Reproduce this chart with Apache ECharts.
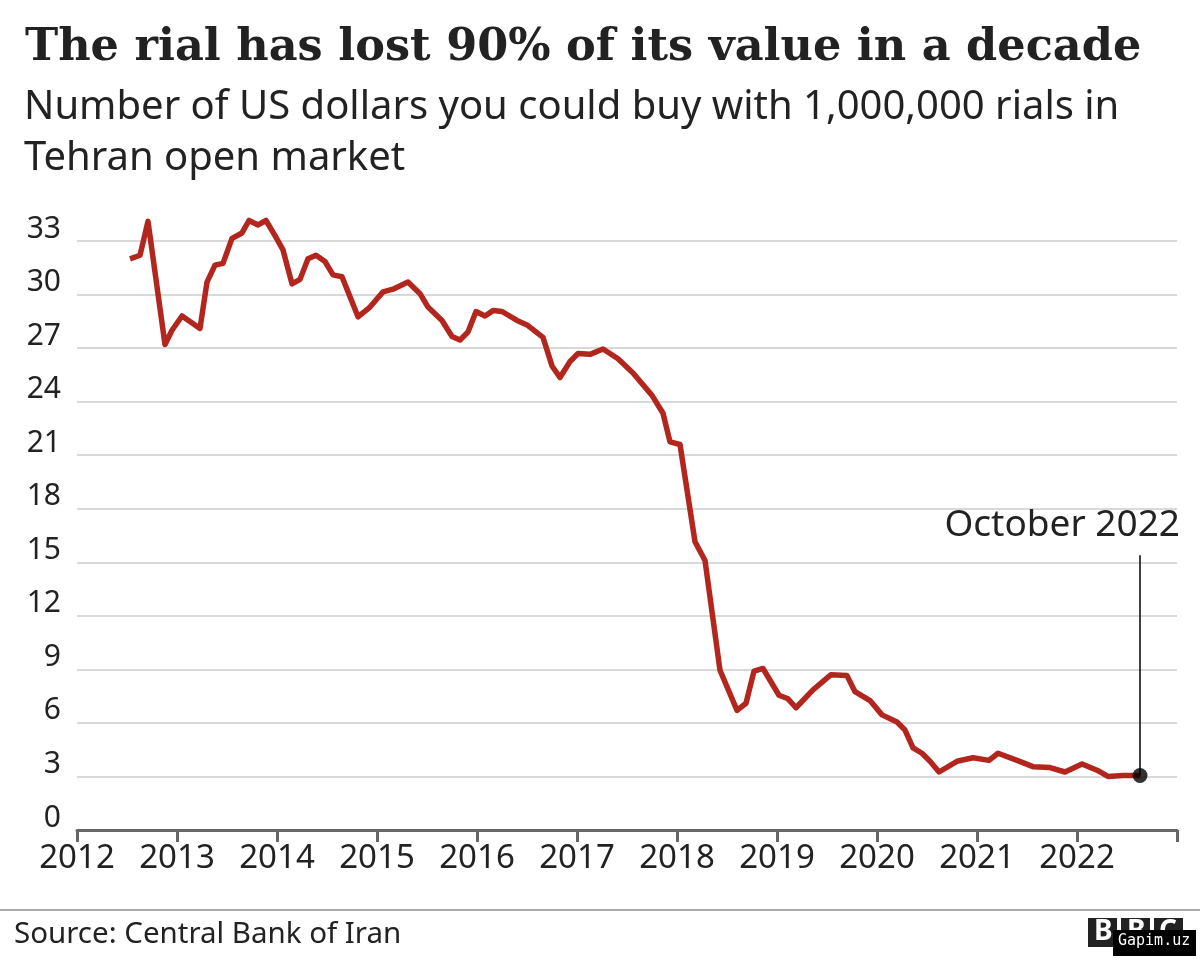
<!DOCTYPE html>
<html>
<head>
<meta charset="utf-8">
<script src="https://cdn.jsdelivr.net/npm/echarts@6/dist/echarts.min.js"></script>
<style>
  html, body { margin: 0; padding: 0; background: #fff; }
  #chart { width: 1200px; height: 960px; }
</style>
</head>
<body>
<div id="chart"></div>
<script>
// dollars per 1,000,000 rials (x = decimal year)
const years = [
  2012.53, 2012.63, 2012.71, 2012.88, 2012.95, 2013.05, 2013.23, 2013.30, 2013.38, 2013.46,
  2013.55, 2013.65, 2013.72, 2013.81, 2013.89, 2013.98, 2014.06, 2014.15, 2014.23, 2014.31,
  2014.39, 2014.48, 2014.56, 2014.65, 2014.81, 2014.93, 2015.06, 2015.16, 2015.31, 2015.43,
  2015.51, 2015.65, 2015.75, 2015.83, 2015.91, 2015.99, 2016.08, 2016.16, 2016.25, 2016.40,
  2016.50, 2016.66, 2016.75, 2016.83, 2016.93, 2017.01, 2017.13, 2017.26, 2017.41, 2017.56,
  2017.75, 2017.86, 2017.93, 2018.03, 2018.18, 2018.28, 2018.43, 2018.60, 2018.69, 2018.77,
  2018.86, 2019.02, 2019.11, 2019.19, 2019.36, 2019.54, 2019.70, 2019.78, 2019.93, 2020.05,
  2020.20, 2020.28, 2020.36, 2020.45, 2020.53, 2020.62, 2020.80, 2020.96, 2021.12, 2021.21,
  2021.40, 2021.56, 2021.73, 2021.88, 2022.05, 2022.20, 2022.31, 2022.46, 2022.63
];
const dollars = [
  32.0, 32.2, 34.1, 27.2, 28.0, 28.8, 28.1, 30.7, 31.65, 31.75,
  33.15, 33.45, 34.15, 33.9, 34.15, 33.3, 32.5, 30.6, 30.85, 32.0,
  32.2, 31.85, 31.1, 31.0, 28.75, 29.3, 30.15, 30.3, 30.7, 30.05,
  29.3, 28.55, 27.65, 27.45, 27.9, 29.05, 28.8, 29.1, 29.05, 28.55,
  28.3, 27.6, 26.0, 25.35, 26.25, 26.7, 26.65, 26.95, 26.4, 25.6,
  24.35, 23.35, 21.75, 21.6, 16.15, 15.1, 8.95, 6.7, 7.1, 8.9,
  9.05, 7.55, 7.35, 6.85, 7.85, 8.7, 8.65, 7.75, 7.25, 6.45,
  6.05, 5.6, 4.6, 4.3, 3.85, 3.25, 3.85, 4.05, 3.9, 4.3,
  3.9, 3.55, 3.5, 3.25, 3.7, 3.35, 3.0, 3.05, 3.05
];
const yTicks = [0, 3, 6, 9, 12, 15, 18, 21, 24, 27, 30, 33];
const xTicks = [2012, 2013, 2014, 2015, 2016, 2017, 2018, 2019, 2020, 2021, 2022];
const lastPoint = [years[years.length - 1], dollars[dollars.length - 1]];
const calloutTop = 15.4;
const calloutText = 'October 2022';

const sans = '"Noto Sans", "Open Sans", sans-serif';
const chart = echarts.init(document.getElementById('chart'));

chart.setOption({
  animation: false,
  backgroundColor: '#fff',
  title: [
    {
      left: 20, top: 20,
      text: 'The rial has lost 90% of its value in a decade',
      textStyle: { fontFamily: '"DejaVu Serif", serif', fontWeight: 'bold', fontSize: 44.6, lineHeight: 46, color: '#222' }
    },
    {
      left: 19, top: 77,
      text: 'Number of US dollars you could buy with 1,000,000 rials in\nTehran open market',
      textStyle: { fontFamily: sans, fontWeight: 'normal', fontSize: 40, lineHeight: 51, color: '#222' }
    }
  ],
  grid: { left: 77, right: 23, top: 241, bottom: 130 },
  xAxis: {
    type: 'value',
    min: xTicks[0],
    max: 2023,
    interval: 1,
    axisLine: { lineStyle: { color: '#666', width: 3 } },
    axisTick: { length: 12, lineStyle: { color: '#666', width: 3 } },
    axisLabel: {
      margin: 12, fontSize: 33, lineHeight: 33, color: '#222', fontFamily: sans,
      formatter: v => xTicks.includes(v) ? String(v) : ''
    },
    splitLine: { show: false }
  },
  yAxis: {
    type: 'value',
    min: yTicks[0],
    max: yTicks[yTicks.length - 1],
    interval: 3,
    axisLine: { show: false },
    axisTick: { show: false },
    axisLabel: {
      margin: 16, align: 'right', verticalAlign: 'bottom', lineHeight: 24,
      fontSize: 30, color: '#222', fontFamily: sans
    },
    splitLine: { lineStyle: { color: '#ccc', width: 1.5 } }
  },
  series: [
    {
      type: 'line',
      data: years.map((y, i) => [y, dollars[i]]),
      clip: false,
      showSymbol: false,
      lineStyle: { color: '#b3261e', width: 5.5, join: 'round' },
      itemStyle: { color: '#b3261e' },
      z: 3
    },
    {
      type: 'scatter',
      data: [lastPoint],
      symbolSize: 15,
      itemStyle: { color: '#000' },
      z: 5,
      markLine: {
        silent: true,
        symbol: 'none',
        label: { show: false },
        lineStyle: { color: '#000', width: 1.5, type: 'solid' },
        data: [[{ coord: lastPoint }, { coord: [lastPoint[0], calloutTop] }]]
      }
    }
  ]
});

// callout text and footer
const calloutPx = chart.convertToPixel({ gridIndex: 0 }, [lastPoint[0], calloutTop]);
chart.setOption({
  graphic: [
    {
      type: 'text', right: 1200 - calloutPx[0] - 40, top: calloutPx[1] - 48,
      style: { text: calloutText, fontSize: 37, lineHeight: 37, fontFamily: sans, fill: '#222' }
    },
    { type: 'rect', left: 0, top: 909, shape: { width: 1200, height: 2 }, style: { fill: '#aaa' } },
    {
      type: 'text', left: 14, top: 919,
      style: { text: 'Source: Central Bank of Iran', fontSize: 29.5, lineHeight: 31, fontFamily: sans, fill: '#222' }
    },
    { type: 'rect', left: 1088, top: 918, shape: { width: 29, height: 29 }, style: { fill: '#222' } },
    { type: 'rect', left: 1121, top: 918, shape: { width: 29, height: 29 }, style: { fill: '#222' } },
    { type: 'rect', left: 1154, top: 918, shape: { width: 29, height: 29 }, style: { fill: '#222' } },
    {
      type: 'text', left: 1094, top: 918,
      style: { text: 'B', fontSize: 28, fontWeight: 'bold', fontFamily: sans, fill: '#fff' }
    },
    {
      type: 'text', left: 1127, top: 918,
      style: { text: 'B', fontSize: 28, fontWeight: 'bold', fontFamily: sans, fill: '#fff' }
    },
    {
      type: 'text', left: 1159, top: 918,
      style: { text: 'C', fontSize: 28, fontWeight: 'bold', fontFamily: sans, fill: '#fff' }
    },
    { type: 'rect', left: 1113, top: 930, shape: { width: 83, height: 26 }, style: { fill: '#000' } },
    {
      type: 'text', left: 1118, top: 934,
      style: { text: 'Gapim.uz', fontSize: 15, fontFamily: '"DejaVu Sans Mono", monospace', fill: '#fff' }
    }
  ]
});
</script>
</body>
</html>
